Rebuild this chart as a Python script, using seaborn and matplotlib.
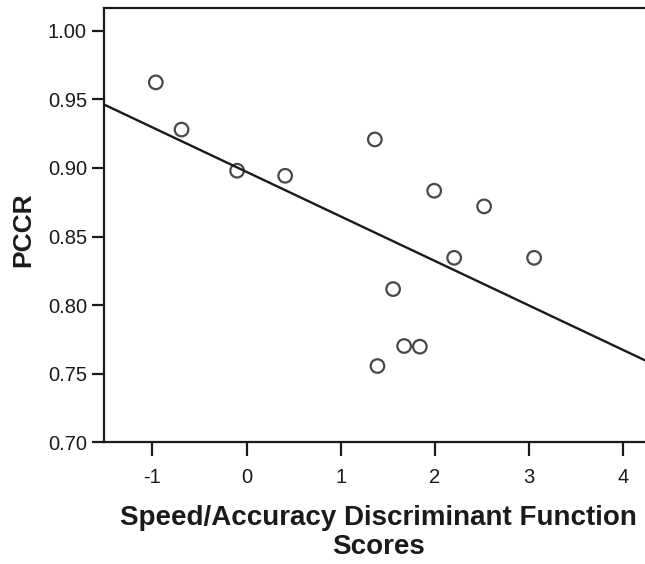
import matplotlib
matplotlib.use("Agg")
import matplotlib.pyplot as plt
import seaborn as sns
import pandas as pd

# Data
scores = [-0.963, -0.69, -0.10, 0.41, 1.362, 1.992, 2.522, 2.204, 3.053, 1.556, 1.673, 1.84, 1.39]
pccr = [0.9624, 0.928, 0.898, 0.8943, 0.9208, 0.8834, 0.872, 0.8345, 0.8345, 0.8117, 0.7702, 0.7697, 0.7556]
x_ticks = [-1, 0, 1, 2, 3, 4]
y_ticks = [0.70, 0.75, 0.80, 0.85, 0.90, 0.95, 1.00]
y_tick_labels = ["0.70", "0.75", "0.80", "0.85", "0.90", "0.95", "1.00"]

df = pd.DataFrame({"score": scores, "pccr": pccr})

sns.set_theme(style="white")
plt.rcParams["font.family"] = ["Liberation Sans", "DejaVu Sans"]

fig = plt.figure(figsize=(6.45, 5.64), dpi=100)
ax = fig.add_axes([0.1617, 0.2158, 1.0 - 0.1617, 0.985 - 0.2158])
ax.set_xlim(-1.51, 4.23)
ax.set_ylim(0.70, 1.0163)

sns.regplot(data=df, x="score", y="pccr", ax=ax, ci=None, truncate=False,
            marker="o",
            scatter_kws=dict(s=95, facecolors="none", edgecolors="#1a1a1a", linewidths=1.6),
            line_kws=dict(color="#1a1a1a", linewidth=1.7))

ax.set_xlim(-1.51, 4.23)
ax.set_ylim(0.70, 1.0163)
ax.set_xticks(x_ticks)
ax.set_xticklabels([str(t) for t in x_ticks])
ax.set_yticks(y_ticks)
ax.set_yticklabels(y_tick_labels)

for side in ["left", "bottom", "top"]:
    ax.spines[side].set_visible(True)
    ax.spines[side].set_color("#1a1a1a")
    ax.spines[side].set_linewidth(1.6)
ax.spines["right"].set_visible(False)

ax.tick_params(axis="x", which="major", direction="out", length=10, width=1.6,
               color="#1a1a1a", labelsize=14.5, labelcolor="#1a1a1a", pad=8.5, bottom=True)
ax.tick_params(axis="y", which="major", direction="out", length=9, width=1.6,
               color="#1a1a1a", labelsize=14.5, labelcolor="#1a1a1a", pad=3.5, left=True)

ax.set_xlabel("Speed/Accuracy Discriminant Function\nScores", fontsize=20,
              fontweight="bold", color="#1a1a1a", linespacing=1.12)
ax.xaxis.set_label_coords(0.507, -0.145)
ax.xaxis.label.set_va("top")
ax.set_ylabel("PCCR", fontsize=19, fontweight="bold", color="#1a1a1a")
ax.yaxis.label.set_va("center")
ax.yaxis.label.set_ha("center")
ax.yaxis.set_label_coords(-0.150, 0.489)

fig.savefig("out.png", dpi=100)
